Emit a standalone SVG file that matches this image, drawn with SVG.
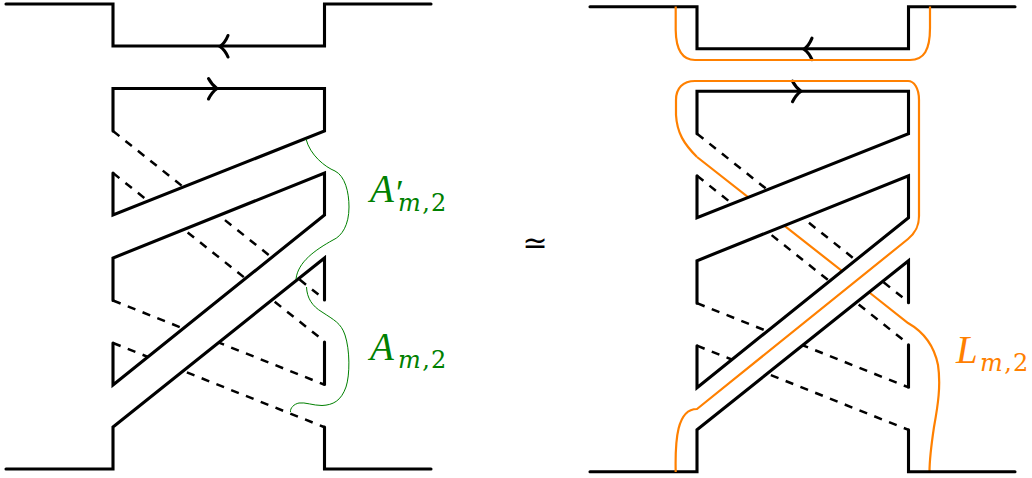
<svg xmlns="http://www.w3.org/2000/svg" xmlns:xlink="http://www.w3.org/1999/xlink" width="1032" height="478" viewBox="0 0 1032 478">
<style>
.s{fill:none;stroke:#000;stroke-width:3.100;stroke-linejoin:miter;stroke-linecap:round}
.d{fill:none;stroke:#000;stroke-width:2.500;stroke-dasharray:8.2 7.7}
.c{fill:#fff;stroke:none}
.g{fill:none;stroke:#008000;stroke-width:1}
.o{fill:none;stroke:#ff8000;stroke-width:2.200}
.a{fill:none;stroke:#000;stroke-width:3.100;stroke-linecap:round}
.l{font-family:"Liberation Serif","Times New Roman",serif;font-style:italic;font-size:39px}
.sub{font-family:"DejaVu Serif",serif;font-size:24px;font-style:italic}
.n{font-family:"DejaVu Serif",serif;font-size:24px;font-style:normal}
</style>
<defs>
<g id="dashes">
<path class="d" d="M113 131L324 299"/>
<path class="d" d="M113 173L324 341"/>
<path class="d" d="M113 300.500L324 384.500"/>
<path class="d" d="M113 343L324 427"/>
</g>
<g id="cover">
<path class="c" d="M113 215L324.500 131V173L113 258Z"/>
<path class="c" d="M113 385L324.500 215V258L113 427Z"/>
</g>
<g id="solid">
<path class="s" d="M6 4H113V46H324.500V4H431"/>
<path class="s" d="M113 131V88.500H324.500V131L113 215V173"/>
<path class="s" d="M113 300.500V258L324.500 173V215L113 385V343"/>
<path class="s" d="M6 469H113V427L324.500 258V300"/>
<path class="s" d="M324.500 342V384.500"/>
<path class="s" d="M324.500 427V469H431"/>
<path class="a" d="M228 35.500Q225 43 220 46.500Q225 50 228 57"/>
<path class="a" d="M208.500 78.500Q212 85 217 88.500Q212 92 208.500 99"/>
</g>
</defs>
<g id="left-diagram">
<use href="#dashes"/>
<use href="#cover"/>
<use href="#solid"/>
</g>
<g id="left-arcs">
<path class="g" d="M306 139C310 155 325 167 335 171C345 176 349 192 349 207C349 225 342 236 333 240C315 250 298 262 296 279"/>
<path class="g" d="M306.500 287C307 298 312 306 322 312C334 320 341 323 345 335C350 350 350 375 346 387C341 401 333 405 322 405.500C313 405.500 305 402 299 403C294 404 290 408 290.500 412"/>
</g>
<g id="right-diagram">
<use href="#dashes" transform="translate(584 2.700)"/>
<path class="o" d="M697 157L870 293L908 323C922 331 934 345 938 365C941 385 938 405 934 427C931 447 929.500 460 929.500 472"/>
<use href="#cover" transform="translate(584 2.700)"/>
<use href="#solid" transform="translate(584 2.700)"/>
</g>
<g id="orange-loop">
<path class="o" d="M675.700 6.500V30C676 50 682 60 695 60H910C924 60 930 50 930 28V6.500"/>
<path class="o" d="M675.700 472C675 440 677 409 697 409L908 239C914 234 919 228 919 216V100C919 88 914 81 908 81H695C683 81 676 88 676 100V115C677 133 684 144 697 157"/>
</g>
<g id="labels">
<text class="l" x="370" y="202" fill="#008000">A<tspan x="396" y="205" font-size="36" font-style="normal">′</tspan></text>
<text class="sub" x="398" y="211" fill="#008000">m<tspan class="n" dx="1.500">,</tspan><tspan class="n" dx="1">2</tspan></text>
<text class="l" x="370" y="360" fill="#008000">A</text>
<text class="sub" x="398" y="368" fill="#008000">m<tspan class="n" dx="1.500">,</tspan><tspan class="n" dx="1">2</tspan></text>
<text class="l" x="956" y="363" fill="#ff8000">L</text>
<text class="sub" x="980" y="370.500" fill="#ff8000">m<tspan class="n" dx="1.500">,</tspan><tspan class="n" dx="1">2</tspan></text>
<text x="535" y="252.500" font-family="DejaVu Sans,sans-serif" font-size="30" text-anchor="middle" fill="#000">≃</text>
</g>
</svg>
